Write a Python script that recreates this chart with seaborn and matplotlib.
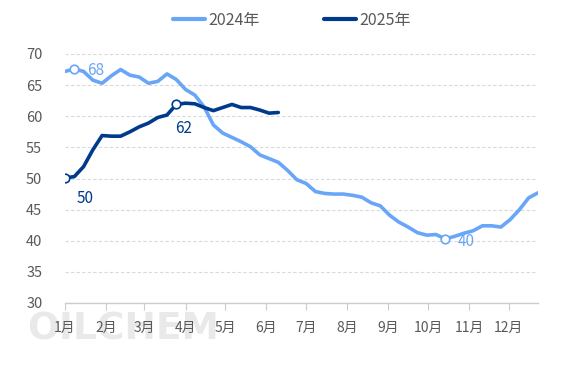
import numpy as np
import pandas as pd
import matplotlib
matplotlib.use("Agg")
import matplotlib.pyplot as plt
import seaborn as sns

# weekly index values
vals_2024 = [67.2, 67.6, 67.2, 65.8, 65.3, 66.5, 67.5, 66.6, 66.3, 65.3,
             65.6, 66.8, 65.9, 64.3, 63.4, 61.5, 58.6, 57.3, 56.6, 55.9,
             55.1, 53.8, 53.2, 52.6, 51.3, 49.8, 49.2, 47.9, 47.6, 47.5,
             47.5, 47.3, 47.0, 46.1, 45.6, 44.1, 43.0, 42.2, 41.3, 40.9,
             41.0, 40.3, 40.7, 41.2, 41.6, 42.4, 42.4, 42.2, 43.4, 45.0,
             46.9, 47.7]
vals_2025 = [50.1, 50.3, 51.9, 54.6, 56.9, 56.8, 56.8, 57.5, 58.3, 58.9,
             59.8, 60.2, 61.9, 62.1, 62.0, 61.4, 60.9, 61.4, 61.9, 61.4,
             61.4, 61.0, 60.5, 60.6]
months = ["1月", "2月", "3月", "4月", "5月", "6月", "7月", "8月", "9月", "10月", "11月", "12月"]
month_start_day = [0, 31, 60, 91, 121, 152, 182, 213, 244, 274, 305, 335]

c24 = "#6aa6f8"
c25 = "#003a8c"
txt = "#595959"

df = pd.concat([
    pd.DataFrame({"week": range(len(vals_2024)), "value": vals_2024, "year": "2024年"}),
    pd.DataFrame({"week": range(len(vals_2025)), "value": vals_2025, "year": "2025年"}),
])

sns.set_style("white")
plt.rcParams["font.family"] = ["Noto Sans CJK SC", "DejaVu Sans"]

fig = plt.figure(figsize=(5.67, 3.78), dpi=100)

# watermark, behind everything
fig.text(27 / 567, 1 - 329 / 378, "OILCHEM", fontsize=27, color="#e9e9e9",
         fontweight="bold", va="center", ha="left", zorder=0,
         family=["DejaVu Sans"])

ax = fig.add_axes([65 / 567, 1 - 303 / 378, 473 / 567, 249 / 378])
ax.set_zorder(1)
ax.patch.set_alpha(0)

sns.lineplot(data=df, x="week", y="value", hue="year", palette=[c24, c25],
             linewidth=2.6, ax=ax, legend=True)

# highlighted points
i_max24 = int(np.argmax(vals_2024))
i_min24 = int(np.argmin(vals_2024))
i_max25 = int(np.argmax(vals_2025[:13]))
i_min25 = int(np.argmin(vals_2025))
for i, v, c, dx, dy in [(i_max24, vals_2024[i_max24], c24, 9, -1),
                        (i_min24, vals_2024[i_min24], c24, 9, -2),
                        (i_max25, vals_2025[i_max25], c25, 5, -17),
                        (i_min25, vals_2025[i_min25], c25, 8, -15)]:
    ax.scatter([i], [v], s=38, facecolor="white", edgecolor=c, linewidth=1.2, zorder=5)
    ax.annotate(f"{v:.0f}", (i, v), xytext=(dx, dy), textcoords="offset points",
                color=c, fontsize=11, ha="left" if dx > 6 else "center", va="center")

ax.set_xlim(0, len(vals_2024) - 1)
ax.set_ylim(30, 70)
ax.set_yticks(range(30, 71, 5))
ax.set_xticks([d / 7 for d in month_start_day])
ax.set_xticklabels(months)
ax.set_xlabel("")
ax.set_ylabel("")
ax.tick_params(axis="y", length=0, labelsize=10.5, labelcolor=txt, pad=28)
ax.tick_params(axis="x", length=5, width=0.8, color="#cccccc", labelsize=10,
               labelcolor=txt, pad=8, direction="out", bottom=True)
for lab in ax.get_yticklabels():
    lab.set_ha("left")
ax.yaxis.grid(True, linestyle=(0, (3, 2)), color="#d9d9d9", linewidth=0.8)
ax.xaxis.grid(False)
for s in ["left", "right", "top"]:
    ax.spines[s].set_visible(False)
ax.spines["bottom"].set_color("#cccccc")
ax.spines["bottom"].set_linewidth(1.0)

leg = ax.legend(loc="center", bbox_to_anchor=(292 / 567, 1 - 20 / 378),
                bbox_transform=fig.transFigure, ncol=2, frameon=False,
                handlelength=2.0, handletextpad=0.2, columnspacing=4.0,
                fontsize=11.5)
for t in leg.get_texts():
    t.set_color(txt)
for l in leg.get_lines():
    l.set_linewidth(3)

fig.savefig("out.png", dpi=100)
